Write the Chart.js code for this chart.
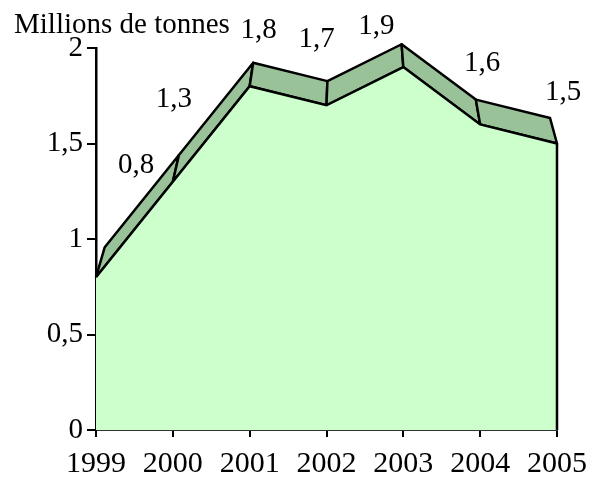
<!DOCTYPE html>
<html>
<head>
<meta charset="utf-8">
<script src="https://cdn.jsdelivr.net/npm/chart.js@4"></script>
<style>
html,body{margin:0;padding:0;background:#fff;}
#wrap{width:605px;height:479px;position:relative;}
</style>
</head>
<body>
<div id="wrap"><canvas id="c" width="605" height="479"></canvas></div>
<script>
const categories = ['1999','2000','2001','2002','2003','2004','2005'];
const values = [0.8, 1.3, 1.8, 1.7, 1.9, 1.6, 1.5];
const yTicks = [0, 0.5, 1, 1.5, 2];
const unitLabel = 'Millions de tonnes';

const FONT = "'Liberation Serif', 'Times New Roman', serif";
// depth perspective: vanishing point and scale of back plane
const VP = {x: 353, y: -605}, DEPTH = 0.966;
// label offsets (px) from the front point
const labelOffsets = [[40,-112],[1,-82],[9,-56],[-10,-66],[-27,-41],[2,-61],[6,-51]];

function fmt(v){ return String(v).replace('.', ','); }

const depthPlugin = {
  id: 'depth',
  beforeDatasetsDraw(chart){
    const ctx = chart.ctx, xs = chart.scales.x, ys = chart.scales.y;
    const front = values.map((v,i)=>({x: xs.getPixelForValue(i), y: ys.getPixelForValue(v)}));
    const back = front.map(p=>({x: VP.x + (p.x-VP.x)*DEPTH, y: VP.y + (p.y-VP.y)*DEPTH}));
    ctx.save();
    ctx.lineJoin = 'round';
    ctx.lineWidth = 2.5;
    ctx.strokeStyle = '#000';
    ctx.fillStyle = '#99C299';
    for (let i=0;i<front.length-1;i++){
      ctx.beginPath();
      ctx.moveTo(front[i].x, front[i].y);
      ctx.lineTo(front[i+1].x, front[i+1].y);
      ctx.lineTo(back[i+1].x, back[i+1].y);
      ctx.lineTo(back[i].x, back[i].y);
      ctx.closePath();
      ctx.fill();
      ctx.stroke();
    }
    ctx.restore();
  },
  afterDatasetsDraw(chart){
    const ctx = chart.ctx, xs = chart.scales.x, ys = chart.scales.y;
    const n = values.length;
    ctx.save();
    ctx.strokeStyle = '#000';
    ctx.lineWidth = 2.5;
    // right edge of front face
    const rx = xs.getPixelForValue(n-1);
    ctx.beginPath();
    ctx.moveTo(rx, ys.getPixelForValue(values[n-1]));
    ctx.lineTo(rx, ys.getPixelForValue(0));
    ctx.stroke();
    // data labels
    ctx.fillStyle = '#000';
    ctx.font = '29px ' + FONT;
    ctx.textAlign = 'center';
    ctx.textBaseline = 'middle';
    values.forEach((v,i)=>{
      const x = xs.getPixelForValue(i) + labelOffsets[i][0];
      const y = ys.getPixelForValue(v) + labelOffsets[i][1];
      ctx.fillText(fmt(v), x, y);
    });
    // unit label
    ctx.font = '29px ' + FONT;
    ctx.textAlign = 'left';
    ctx.textBaseline = 'alphabetic';
    ctx.fillText(unitLabel, 14, 33);
    ctx.restore();
  }
};

new Chart(document.getElementById('c'), {
  type: 'line',
  data: {
    labels: categories,
    datasets: [{
      data: values,
      fill: 'origin',
      backgroundColor: '#CCFFCC',
      borderColor: '#000',
      borderWidth: 2.5,
      pointRadius: 0,
      tension: 0
    }]
  },
  options: {
    responsive: false,
    animation: false,
    devicePixelRatio: 1,
    layout: {padding: {top: 48, right: 48, left: 0, bottom: 0}},
    plugins: {legend: {display: false}, tooltip: {enabled: false}},
    scales: {
      x: {
        offset: false,
        grid: {display: true, drawOnChartArea: false, drawTicks: true, tickLength: 7, color: '#000', lineWidth: 2},
        border: {display: true, color: '#333', width: 2},
        ticks: {color: '#000', font: {family: FONT, size: 30, lineHeight: 1.0}, padding: 12, maxRotation: 0, autoSkip: false},
        afterFit(s){ s.height = 49; }
      },
      y: {
        min: 0, max: 2,
        afterBuildTicks(s){ s.ticks = yTicks.map(v=>({value: v})); },
        grid: {display: true, drawOnChartArea: false, drawTicks: true, tickLength: 9, color: '#000', lineWidth: 2},
        border: {display: true, color: '#000', width: 2.5},
        ticks: {color: '#000', font: {family: FONT, size: 29}, padding: 4, callback: v => fmt(v)},
        afterFit(s){ s.width = 96; }
      }
    }
  },
  plugins: [depthPlugin]
});
</script>
</body>
</html>
